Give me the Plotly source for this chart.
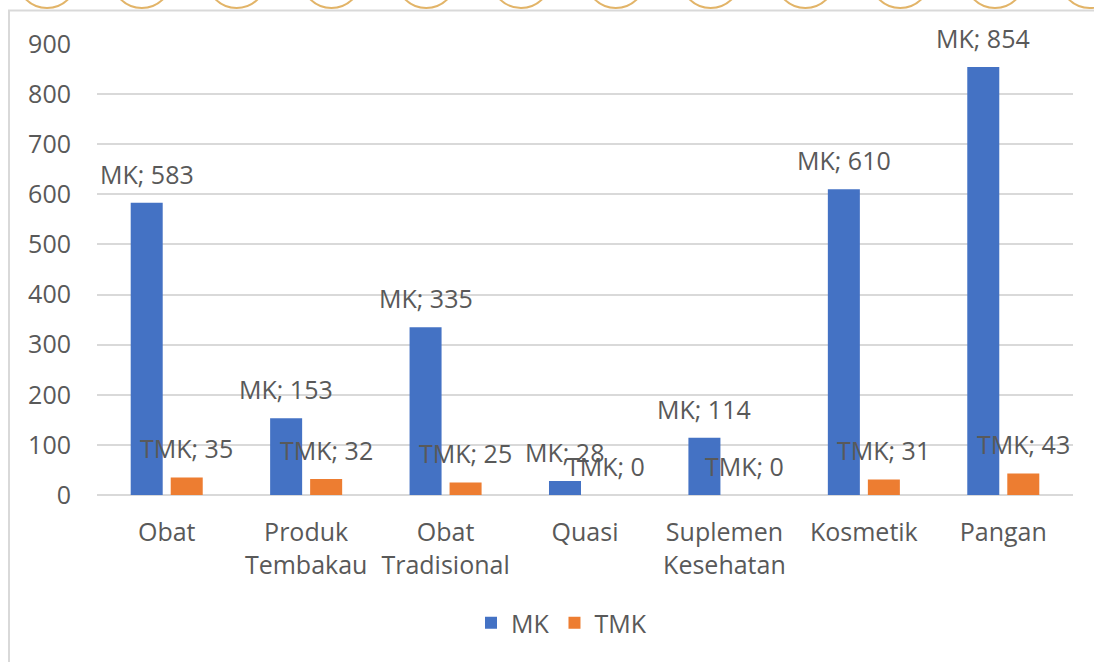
import plotly.graph_objects as go

# Jumlah sarana per kategori produk: memenuhi ketentuan (MK) dan tidak (TMK)
categories = ["Obat", "Produk<br>Tembakau", "Obat<br>Tradisional", "Quasi",
              "Suplemen<br>Kesehatan", "Kosmetik", "Pangan"]
mk_values = [583, 153, 335, 28, 114, 610, 854]
tmk_values = [35, 32, 25, 0, 0, 31, 43]
series_names = ["MK", "TMK"]
y_ticks = [0, 100, 200, 300, 400, 500, 600, 700, 800, 900]

BLUE = "#4472C4"
ORANGE = "#ED7D31"
TEXT = "#595959"
GRID = "#D9D9D9"
FONT = "Open Sans, Noto Sans, sans-serif"
FONT_SIZE = 25

W, H = 1094, 662
M_L, M_R, M_T, M_B = 97, 21, 44, 167
PLOT_W = W - M_L - M_R
PLOT_H = H - M_T - M_B

BARGAP = 0.426
BARGROUPGAP = 0.2

fig = go.Figure()
for name, vals, color in [(series_names[0], mk_values, BLUE),
                          (series_names[1], tmk_values, ORANGE)]:
    fig.add_trace(go.Bar(
        name=name, x=list(range(len(categories))), y=vals,
        marker=dict(color=color, line=dict(width=0)),
    ))

# data labels "SERIES; value" above each bar
slot = (1 - BARGAP) / 2
offsets = [-slot / 2, slot / 2]
for s, (name, vals) in enumerate([(series_names[0], mk_values),
                                  (series_names[1], tmk_values)]):
    for i, v in enumerate(vals):
        fig.add_annotation(
            x=i + offsets[s], y=v, xref="x", yref="y",
            text=f"{name}; {v}", showarrow=False,
            yanchor="middle", xanchor="center", yshift=29,
            font=dict(family=FONT, size=FONT_SIZE, color=TEXT),
        )

# chart-area frame
def px_x(p):
    return (p - M_L) / PLOT_W

def px_y(p):
    return (H - M_B - p) / PLOT_H

fig.add_shape(type="rect", xref="paper", yref="paper",
              x0=px_x(9), x1=px_x(1300), y0=px_y(900), y1=px_y(10.5),
              line=dict(color=GRID, width=2), fillcolor="rgba(0,0,0,0)",
              layer="below")

# decorative ring border along the top edge
ring_color = "#E2B468"
for k in range(12):
    cx = 47 + 94.8 * k
    fig.add_shape(type="circle", xref="paper", yref="paper",
                  xsizemode="pixel", ysizemode="pixel",
                  xanchor=px_x(cx), yanchor=px_y(-22),
                  x0=-30, x1=30, y0=-30, y1=30,
                  line=dict(color=ring_color, width=2),
                  fillcolor="rgba(0,0,0,0)")

fig.update_layout(
    width=W, height=H,
    margin=dict(l=M_L, r=M_R, t=M_T, b=M_B, pad=0),
    paper_bgcolor="white", plot_bgcolor="white",
    barmode="group", bargap=BARGAP, bargroupgap=BARGROUPGAP,
    font=dict(family=FONT, size=FONT_SIZE, color=TEXT),
    showlegend=True,
    legend=dict(orientation="h", x=px_x(471), xanchor="left",
                y=px_y(600), yanchor="top",
                font=dict(family=FONT, size=FONT_SIZE, color=TEXT),
                itemclick=False, itemdoubleclick=False),
    xaxis=dict(
        tickmode="array", tickvals=list(range(len(categories))),
        ticktext=categories, range=[-0.5, len(categories) - 0.5],
        showgrid=False, zeroline=False, showline=False, ticks="",
        tickfont=dict(family=FONT, size=FONT_SIZE, color=TEXT),
        ticklabelstandoff=20, fixedrange=True,
    ),
    yaxis=dict(
        range=[0, 900], tickmode="array", tickvals=y_ticks,
        showgrid=True, gridcolor=GRID, gridwidth=2,
        zeroline=True, zerolinecolor=GRID, zerolinewidth=2,
        showline=False, ticks="",
        tickfont=dict(family=FONT, size=FONT_SIZE, color=TEXT),
        ticklabelstandoff=25, fixedrange=True,
    ),
)

fig.write_html("out.html")
